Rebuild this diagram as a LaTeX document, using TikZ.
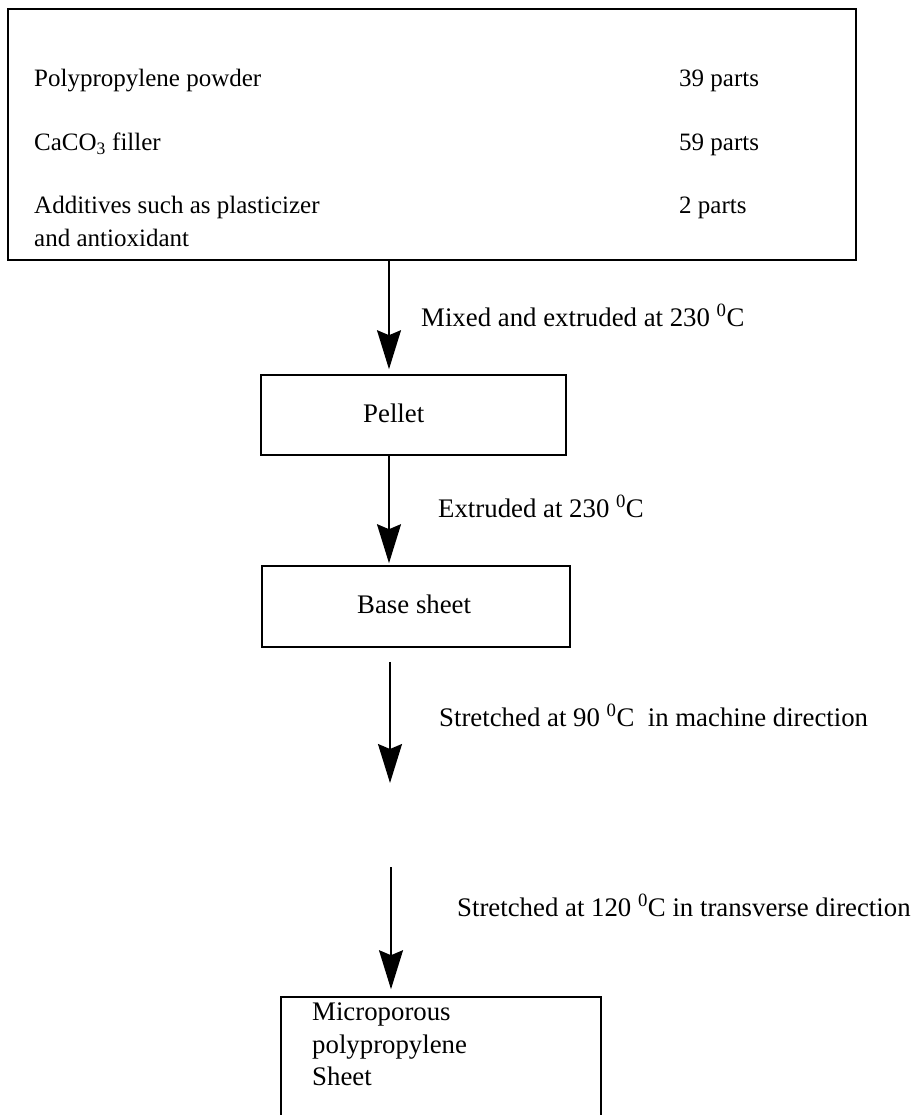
\documentclass[tikz,border=0pt]{standalone}
\usepackage{fontspec}
\setmainfont{Liberation Serif}
\usetikzlibrary{positioning,arrows.meta}

\tikzset{
    stepbox/.style={draw, rectangle, line width=1.6pt, inner sep=0pt},
    txt/.style={anchor=base west, inner sep=0pt, font=\fontsize{26.8}{32}\selectfont},
    item/.style={anchor=base west, inner sep=0pt, font=\fontsize{25}{31}\selectfont},
    flow/.style={line width=1.6pt, -{Stealth[length=39pt, width=24pt, inset=5pt]}},
}

\begin{document}
\begin{tikzpicture}[x=1pt, y=-1pt]
    \clip (0,0) rectangle (914,1115);
    \fill[white] (0,0) rectangle (914,1115);

    % Raw materials
    \node[stepbox, minimum width=848pt, minimum height=251pt] (mix) at (432,134.5) {};
    \node[item] (pp) at (34,87) {Polypropylene powder};
    \node[item] (filler) at (34,151) {CaCO\textsubscript{3} filler};
    \node[item] (add) at (34,214) {Additives such as plasticizer};
    \node[item] (anti) at (34,246) {and antioxidant};
    \node[item] (ppparts) at (679,87) {39 parts};
    \node[item] (fillerparts) at (679,151) {59 parts};
    \node[item] (addparts) at (679,214) {2 parts};

    % Process steps
    \node[stepbox, minimum width=305pt, minimum height=80pt] (pellet) at (413.5,415) {};
    \node[txt] (pellettxt) at (363,422) {Pellet};
    \node[stepbox, minimum width=308pt, minimum height=81pt] (base) at (416,606.5) {};
    \node[txt] (basetxt) at (357,613) {Base sheet};
    \node[stepbox, minimum width=320pt, minimum height=200pt] (sheet) at (441,1097) {};
    \node[txt, anchor=north west, align=left, font=\fontsize{26.8}{32.5}\selectfont] (sheettxt) at (312,1003) {Microporous\\polypropylene\\Sheet};

    % Connections
    \coordinate (axis) at (389,0);
    \coordinate (md) at (390,783);
    \coordinate (td) at (391,867);
    \draw[flow, shorten >=5pt] (mix.south -| axis) -- (pellet.north -| axis);
    \draw[flow, shorten >=2pt] (pellet.south -| axis) -- (base.north -| axis);
    \draw[flow, shorten <=14pt] (base.south -| md) -- (md);
    \draw[flow, shorten >=7pt] (td) -- (sheet.north -| td);

    % Conditions
    \node[txt] (mixlbl) at (421,326) {Mixed and extruded at 230 \textsuperscript{0}C};
    \node[txt] (extlbl) at (438,517) {Extruded at 230 \textsuperscript{0}C};
    \node[txt] (mdlbl) at (439,726) {Stretched at 90 \textsuperscript{0}C~ in machine direction};
    \node[txt] (tdlbl) at (457,916) {Stretched at 120 \textsuperscript{0}C in transverse direction};
\end{tikzpicture}
\end{document}
